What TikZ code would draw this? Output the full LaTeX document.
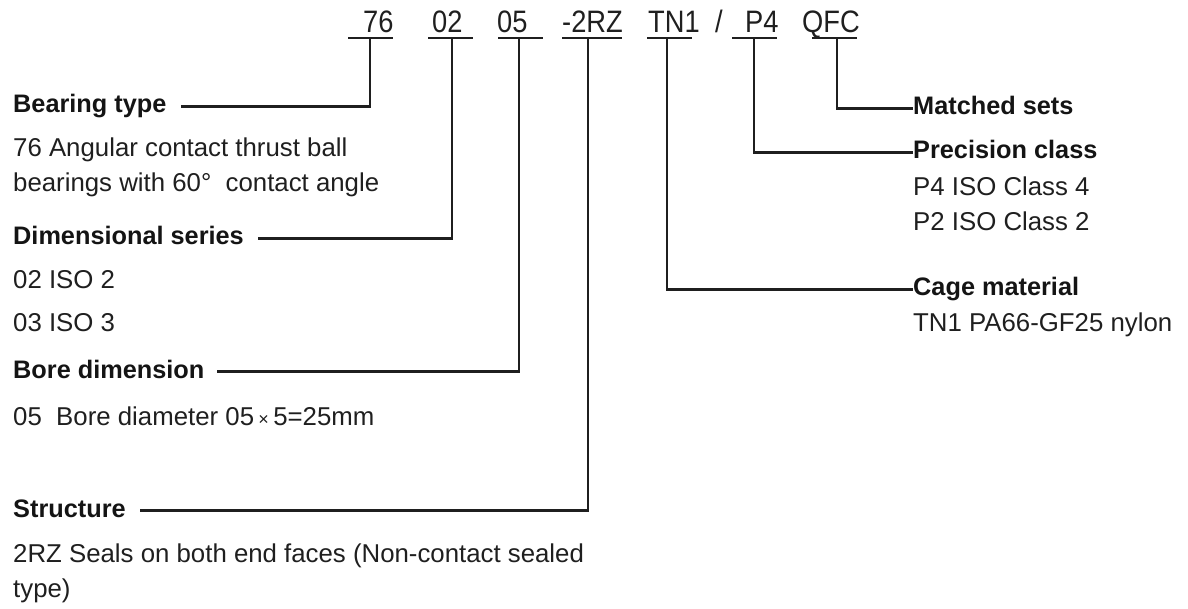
\documentclass[tikz,border=0pt]{standalone}
\usepackage{fontspec}
\setmainfont{Liberation Sans}
\newfontfamily\codefont[FakeStretch=0.88]{Liberation Sans}
\begin{document}
\begin{tikzpicture}[x=1pt,y=-1pt,
  conn/.style={line width=2.6pt, draw=black!88},
  code/.style={font=\codefont\fontsize{31}{32}\selectfont, inner sep=0pt, anchor=base west, text=black!88},
  head/.style={font=\bfseries\fontsize{25.3}{30}\selectfont, inner sep=0pt, anchor=base west, text height=18pt, text depth=5pt, text=black!92},
  desc/.style={font=\fontsize{25.8}{30}\selectfont, inner sep=0pt, anchor=base west, text=black!88},
]
\useasboundingbox (0,0) rectangle (1188,609);

% designation code
\node[code] (c76)   at (363,33) {76};
\node[code] (c02)   at (432,33) {02};
\node[code] (c05)   at (497,33) {05};
\node[code] (c2rz)  at (562,33) {-2RZ};
\node[code] (ctn)   at (648,33) {TN1};
\node[code] (csl)   at (715,33) {/};
\node[code] (cp4)   at (745,33) {P4};
\node[code] (cqfc)  at (802,33) {QFC};

% underlines
\draw[conn] (348,38) -- (393,38);
\draw[conn] (428,38) -- (473,38);
\draw[conn] (498,38) -- (543,38);
\draw[conn] (562,38) -- (622,38);
\draw[conn] (647,38) -- (692,38);
\draw[conn] (732,38) -- (777,38);
\draw[conn] (812,38) -- (857,38);

\coordinate (j76)  at (370,38);
\coordinate (j02)  at (452,38);
\coordinate (j05)  at (519,38);
\coordinate (j2rz) at (588,38);
\coordinate (jtn)  at (667,38);
\coordinate (jp4)  at (754,38);
\coordinate (jqfc) at (837,38);

% left labels
\node[head] (bt) at (13,113) {Bearing type};
\node[desc] (bt1) at (13,157) {76 Angular contact thrust ball};
\node[desc] (bt2) at (13,192) {bearings with 60°\ \ contact angle};
\node[head] (ds) at (13,245) {Dimensional series};
\node[desc] (ds1) at (13,289) {02 ISO 2};
\node[desc] (ds2) at (13,332) {03 ISO 3};
\node[head] (bd) at (13,378) {Bore dimension};
\node[desc] (bd1) at (13,425) {05\ \ Bore diameter 05\,{\fontsize{18}{20}\selectfont ×}\,5=25mm};
\node[head] (st) at (13,517) {Structure};
\node[desc] (st1) at (13,562) {2RZ Seals on both end faces (Non-contact sealed};
\node[desc] (st2) at (13,597) {type)};

% right labels
\node[head] (ms) at (913,115) {Matched sets};
\node[head] (pc) at (913,159) {Precision class};
\node[desc] (pc1) at (913,196) {P4 ISO Class 4};
\node[desc] (pc2) at (913,231) {P2 ISO Class 2};
\node[head] (cm) at (913,296) {Cage material};
\node[desc] (cm1) at (913,332) {TN1 PA66-GF25 nylon};

% connectors
\draw[conn] (j76)  |- ([xshift=14pt]bt.east);
\draw[conn] (j02)  |- ([xshift=14pt]ds.east);
\draw[conn] (j05)  |- ([xshift=12pt]bd.east);
\draw[conn] (j2rz) |- ([xshift=14pt]st.east);
\draw[conn] (jqfc) |- (ms.west);
\draw[conn] (jp4)  |- (pc.west);
\draw[conn] (jtn)  |- (cm.west);
\end{tikzpicture}
\end{document}
